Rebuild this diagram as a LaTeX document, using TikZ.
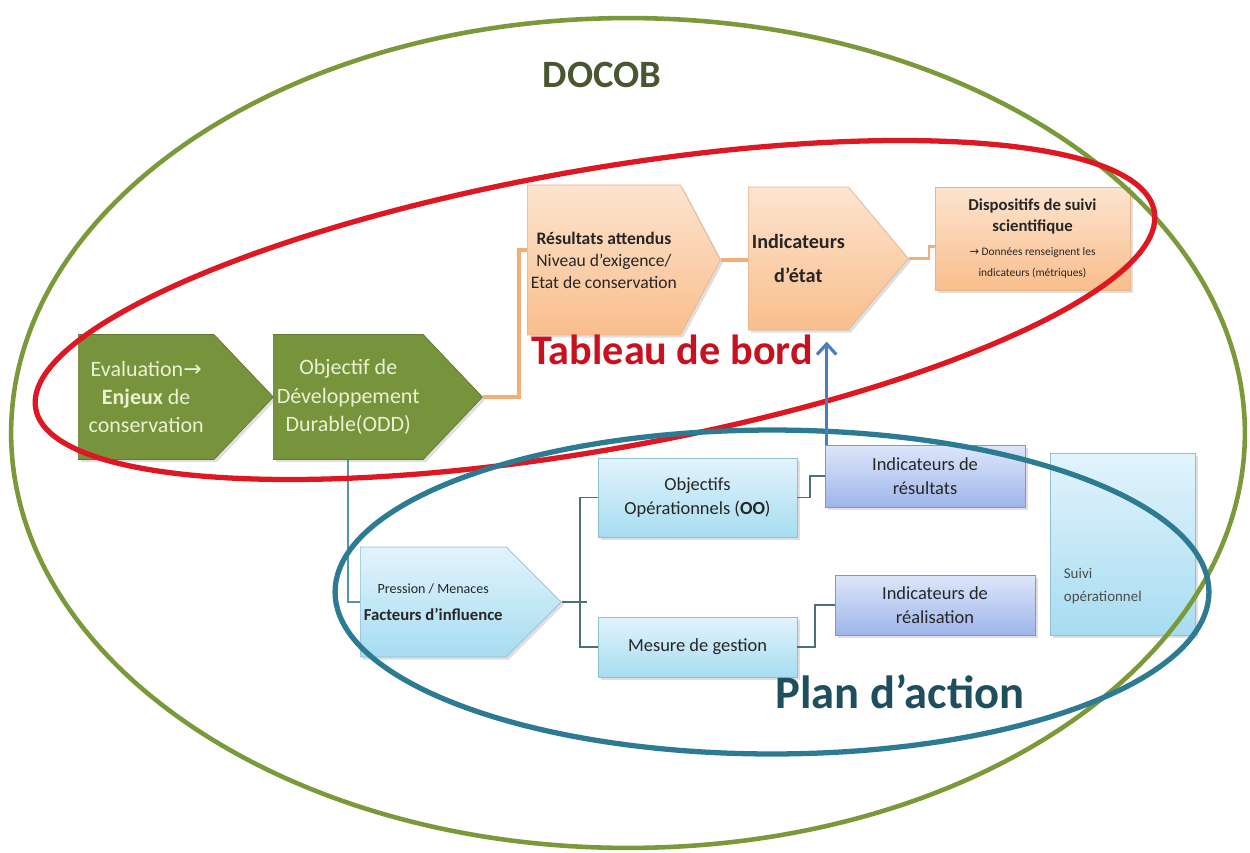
\documentclass[tikz,border=0pt]{standalone}
\usepackage{fontspec}
\setmainfont{Carlito}
\newfontfamily\arrowfont{DejaVu Sans}
\usetikzlibrary{shapes.symbols,shadows,calc,arrows.meta}

\definecolor{docobgreen}{HTML}{7A9A3A}
\definecolor{docobtext}{HTML}{4A5632}
\definecolor{leafgreen}{HTML}{77933C}
\definecolor{leafedge}{HTML}{5F7A2C}
\definecolor{leaftext}{HTML}{EAF2D2}
\definecolor{peachtop}{HTML}{FDE4CF}
\definecolor{peachbot}{HTML}{F9BE8C}
\definecolor{peachedge}{HTML}{E8B48A}
\definecolor{peachline}{HTML}{F2AE76}
\definecolor{skytop}{HTML}{E2F4FC}
\definecolor{skybot}{HTML}{A7DCF1}
\definecolor{skyedge}{HTML}{8FBFD3}
\definecolor{lavtop}{HTML}{DDE6FA}
\definecolor{lavbot}{HTML}{9FB5EA}
\definecolor{lavedge}{HTML}{8097C8}
\definecolor{bordred}{HTML}{DD1822}
\definecolor{bordtext}{HTML}{C8101E}
\definecolor{actionteal}{HTML}{2C7B92}
\definecolor{actiontext}{HTML}{1F4E5F}
\definecolor{linkgrey}{HTML}{4C6F7C}
\definecolor{arrowblue}{HTML}{4A7EBB}

\tikzset{
  boxbase/.style={align=center, inner sep=2pt, text=black!85,
    drop shadow={opacity=0.25, shadow xshift=1.5pt, shadow yshift=-1.5pt}},
  greenstep/.style={boxbase, signal, signal to=east, signal pointer angle=93,
    anchor=west, fill=leafgreen, draw=leafedge, text=leaftext,
    font=\fontsize{12.5}{16}\selectfont},
  peachstep/.style={boxbase, signal, signal to=east, anchor=west, draw=peachedge,
    top color=peachtop, bottom color=peachbot},
  peachbox/.style={boxbase, rectangle, draw=peachedge,
    top color=peachtop, bottom color=peachbot},
  skystep/.style={boxbase, signal, signal to=east, signal pointer angle=90,
    anchor=west, draw=skyedge, top color=skytop, bottom color=skybot},
  skybox/.style={boxbase, rectangle, draw=skyedge,
    top color=skytop, bottom color=skybot,
    font=\fontsize{10.5}{14}\selectfont},
  lavbox/.style={boxbase, rectangle, draw=lavedge,
    top color=lavtop, bottom color=lavbot,
    font=\fontsize{10.5}{14}\selectfont},
  orangelink/.style={draw=peachline, line width=2.2pt},
  greylink/.style={draw=linkgrey, line width=1.1pt},
  ring/.style={line width=2.6pt},
  bigtitle/.style={font=\bfseries\fontsize{24}{28}\selectfont}
}

\begin{document}
\begin{tikzpicture}[x=0.02cm, y=-0.02cm]
  \useasboundingbox[fill=white] (0,0) rectangle (1250,852);

  % dashboard chain
  \node[greenstep, minimum width=3.9cm, minimum height=2.5cm] (eval) at (78,397)
    {Evaluation{\arrowfont→}\\\textbf{Enjeux} de\\conservation};
  \node[greenstep, minimum width=3.95cm, minimum height=2.5cm] (odd) at (273,397)
    {Objectif de\\Développement\\Durable(ODD)};
  \node[peachstep, signal pointer angle=124, minimum width=3.86cm, minimum height=3cm,
    font=\fontsize{10}{12.5}\selectfont] (res) at (527,260)
    {\textbf{Résultats attendus}\\Niveau d’exigence/\\Etat de conservation};
  \node[peachstep, signal pointer angle=100, minimum width=2.74cm, minimum height=2.86cm,
    font=\bfseries\fontsize{11.5}{19}\selectfont] (etat) at (748,258.5)
    {Indicateurs\\d’état};
  \node[peachbox, minimum width=3.9cm, minimum height=2.06cm] (dispo) at (1032.5,238.5)
    {\fontsize{9.5}{11}\selectfont\textbf{Dispositifs de suivi}\\
     \fontsize{9.5}{12}\selectfont\textbf{scientifique}\\[2pt]
     \fontsize{6.5}{9}\selectfont{\arrowfont→} Données renseignent les\\
     \fontsize{6.5}{9}\selectfont indicateurs (métriques)};

  % action plan
  \node[skystep, minimum width=3.9cm, minimum height=2.2cm] (press) at (360,602)
    {\fontsize{8}{10}\selectfont Pression / Menaces\\[3pt]
     \fontsize{9.5}{11}\selectfont\textbf{Facteurs d’influence}};
  \node[skybox, minimum width=3.98cm, minimum height=1.58cm] (oo) at (697.5,497.5)
    {Objectifs\\Opérationnels (\textbf{OO})};
  \node[skybox, minimum width=3.98cm, minimum height=1.2cm] (mesure) at (697.5,647)
    {Mesure de gestion};
  \node[lavbox, minimum width=4cm, minimum height=1.24cm] (indres) at (925,476)
    {Indicateurs de\\résultats};
  \node[lavbox, minimum width=4cm, minimum height=1.2cm] (indrea) at (935,605)
    {Indicateurs de\\réalisation};
  \node[skybox, minimum width=2.9cm, minimum height=3.64cm] (suivi) at (1122.5,544) {};
  \node[anchor=west, align=left, text=black!70, font=\fontsize{8.5}{13}\selectfont]
    (suivitxt) at ($(suivi.west)+(8,42)$) {Suivi\\opérationnel};

  % links
  \draw[orangelink] (odd.east) -- ++(36,0) |- ($(res.west)+(0,-10)$);
  \draw[orangelink] (res.east) -- (etat.west |- res.east);
  \draw[orangelink, line width=1.2pt] (etat.east) -- ++(20,0) |- ($(dispo.west)+(0,8)$);
  \draw[greylink, draw=actionteal!80] (odd.south) |- (press.west);
  \draw[greylink] (press.east) -- ++(25,0);
  \draw[greylink] (oo.west) -- ++(-18,0) |- (mesure.west);
  \draw[greylink] (oo.east) -- ++(13,0) |- (indres.west);
  \draw[greylink] (mesure.east) -- ++(18,0) |- (indrea.west);

  % rings
  \draw[ring, docobgreen] (628,433) ellipse [x radius=12.34cm, y radius=8.3cm];
  \draw[ring, bordred, line width=3pt, rotate around={10:(595,310)}]
    (595,310) ellipse [x radius=11.36cm, y radius=2.8cm];
  \draw[ring, actionteal, line width=3pt] (772,592) ellipse [x radius=8.74cm, y radius=3.24cm];

  \draw[arrowblue, line width=1.8pt, -{Straight Barb[length=6pt,width=11pt]}]
    ($(indres.north west)+(2,0)$) -- ++(0,-103);

  % titles
  \node[bigtitle, font=\bfseries\fontsize{22}{26}\selectfont, text=docobtext] (docob) at (602,75) {DOCOB};
  \node[bigtitle, text=bordtext] (bord) at (672,350) {Tableau de bord};
  \node[bigtitle, font=\bfseries\fontsize{26.5}{30}\selectfont, text=actiontext] (action) at (900,692) {Plan d’action};
\end{tikzpicture}
\end{document}
